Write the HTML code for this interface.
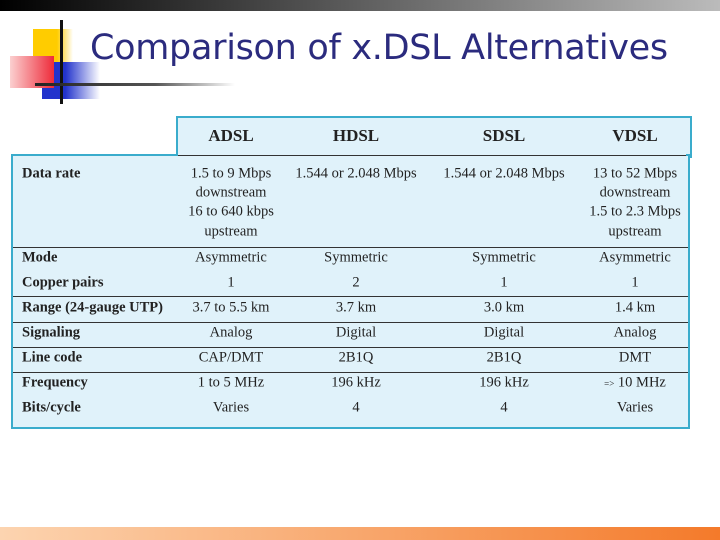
<!DOCTYPE html>
<html><head><meta charset="utf-8"><style>
body{margin:0;width:720px;height:540px;position:relative;overflow:hidden;background:#fff;font-family:"Liberation Serif",serif}
.a{position:absolute}
.t{position:absolute;font-size:14.5px;color:#222;white-space:nowrap;transform:translate(-50%,-50%)}
.l{position:absolute;font-size:14.5px;font-weight:bold;color:#222;white-space:nowrap;transform:translateY(-50%);left:22px}
.h{position:absolute;font-size:17px;font-weight:bold;color:#222;transform:translate(-50%,-50%)}
.sep{position:absolute;left:13px;width:675px;height:1px;background:#333}
</style></head><body>
<div class="a" style="left:0;top:0;width:720px;height:11px;background:linear-gradient(90deg,#000,#555 45%,#bbb)"></div>
<div class="a" style="left:0;top:527px;width:720px;height:13px;background:linear-gradient(90deg,#fcd4b0,#f47a2a)"></div>
<div>
<div class="a" style="left:33px;top:29px;width:40px;height:33px;background:linear-gradient(90deg,#ffcc00 60%,rgba(255,220,80,0))"></div>
<div class="a" style="left:42px;top:62px;width:58px;height:37px;background:linear-gradient(90deg,#2233cc 40%,rgba(60,70,220,0))"></div>
<div class="a" style="left:10px;top:56px;width:44px;height:32px;background:linear-gradient(90deg,#fbd0d0,#ee2b3a)"></div>
<div class="a" style="left:60px;top:20px;width:3px;height:84px;background:#111"></div>
<div class="a" style="left:35px;top:83px;width:200px;height:3px;background:linear-gradient(90deg,#222,#555 60%,rgba(150,150,150,0))"></div>
</div>
<div class="a" style="left:90px;top:28px;font-family:'DejaVu Sans',sans-serif;font-size:35px;color:#2b2b7e;white-space:nowrap;letter-spacing:-0.3px">Comparison of x.DSL Alternatives</div>
<div>
<div class="a" style="left:176px;top:116px;width:512px;height:40px;background:#e0f2fa;border:2px solid #3aaccc;border-bottom:none"></div>
<div class="a" style="left:11px;top:154px;width:675px;height:271px;background:#e0f2fa;border:2px solid #3aaccc"></div>
<div class="a" style="left:178px;top:154px;width:508px;height:2px;background:#e0f2fa"></div>
<div class="sep" style="top:155px;left:178px;width:508px;background:#333"></div>
<div class="sep" style="top:247px"></div>
<div class="sep" style="top:296px"></div>
<div class="sep" style="top:322px"></div>
<div class="sep" style="top:347px"></div>
<div class="sep" style="top:372px"></div>
<div class="h" style="left:231px;top:136px">ADSL</div>
<div class="h" style="left:356px;top:136px">HDSL</div>
<div class="h" style="left:504px;top:136px">SDSL</div>
<div class="h" style="left:635px;top:136px">VDSL</div>
<div class="l" style="top:174px">Data rate</div>
<div class="l" style="top:258px">Mode</div>
<div class="l" style="top:283px">Copper pairs</div>
<div class="l" style="top:308px">Range (24-gauge UTP)</div>
<div class="l" style="top:333px">Signaling</div>
<div class="l" style="top:358px">Line code</div>
<div class="l" style="top:383px">Frequency</div>
<div class="l" style="top:408px">Bits/cycle</div>
<div class="t" style="left:231px;top:174px">1.5 to 9 Mbps</div>
<div class="t" style="left:231px;top:193px">downstream</div>
<div class="t" style="left:231px;top:212px">16 to 640 kbps</div>
<div class="t" style="left:231px;top:232px">upstream</div>
<div class="t" style="left:356px;top:174px">1.544 or 2.048 Mbps</div>
<div class="t" style="left:504px;top:174px">1.544 or 2.048 Mbps</div>
<div class="t" style="left:635px;top:174px">13 to 52 Mbps</div>
<div class="t" style="left:635px;top:193px">downstream</div>
<div class="t" style="left:635px;top:212px">1.5 to 2.3 Mbps</div>
<div class="t" style="left:635px;top:232px">upstream</div>
<div class="t" style="left:231px;top:258px">Asymmetric</div>
<div class="t" style="left:356px;top:258px">Symmetric</div>
<div class="t" style="left:504px;top:258px">Symmetric</div>
<div class="t" style="left:635px;top:258px">Asymmetric</div>
<div class="t" style="left:231px;top:283px">1</div>
<div class="t" style="left:356px;top:283px">2</div>
<div class="t" style="left:504px;top:283px">1</div>
<div class="t" style="left:635px;top:283px">1</div>
<div class="t" style="left:231px;top:308px">3.7 to 5.5 km</div>
<div class="t" style="left:356px;top:308px">3.7 km</div>
<div class="t" style="left:504px;top:308px">3.0 km</div>
<div class="t" style="left:635px;top:308px">1.4 km</div>
<div class="t" style="left:231px;top:333px">Analog</div>
<div class="t" style="left:356px;top:333px">Digital</div>
<div class="t" style="left:504px;top:333px">Digital</div>
<div class="t" style="left:635px;top:333px">Analog</div>
<div class="t" style="left:231px;top:358px">CAP/DMT</div>
<div class="t" style="left:356px;top:358px">2B1Q</div>
<div class="t" style="left:504px;top:358px">2B1Q</div>
<div class="t" style="left:635px;top:358px">DMT</div>
<div class="t" style="left:231px;top:383px">1 to 5 MHz</div>
<div class="t" style="left:356px;top:383px">196 kHz</div>
<div class="t" style="left:504px;top:383px">196 kHz</div>
<div class="t" style="left:635px;top:383px"><span style="font-size:9px">=&gt;</span> 10 MHz</div>
<div class="t" style="left:231px;top:408px">Varies</div>
<div class="t" style="left:356px;top:408px">4</div>
<div class="t" style="left:504px;top:408px">4</div>
<div class="t" style="left:635px;top:408px">Varies</div>
</div>
</body></html>
